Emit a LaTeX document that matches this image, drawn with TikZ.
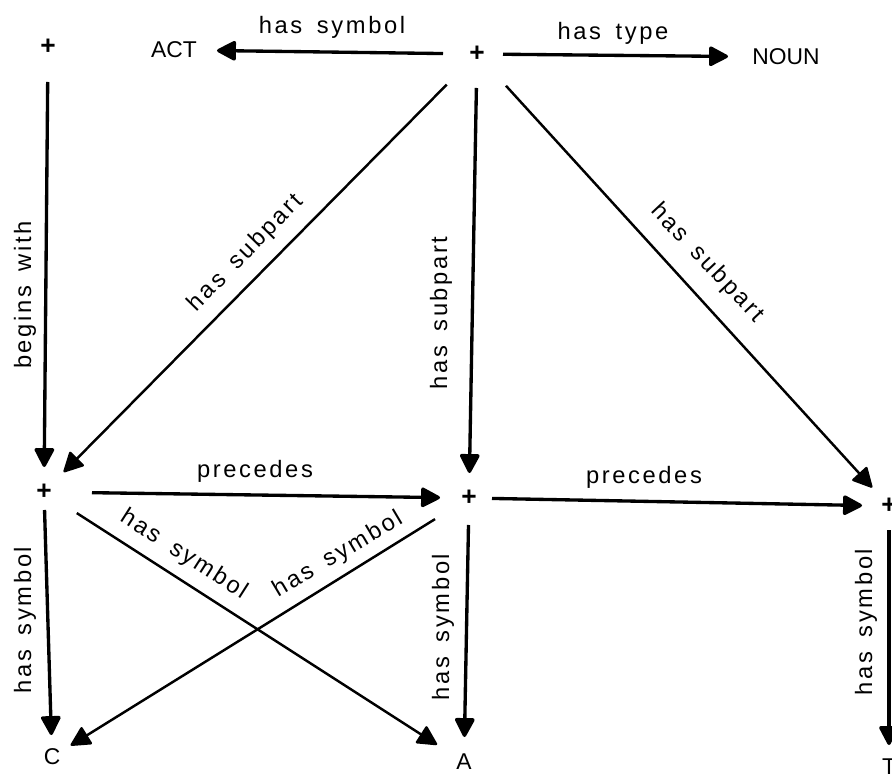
\documentclass[tikz,border=0pt]{standalone}
\usepackage{fontspec}
\setmainfont{Liberation Sans}
\newfontfamily\lblfont[LetterSpace=11,WordSpace=1.6]{Liberation Sans}
\usetikzlibrary{arrows.meta}
\begin{document}
\begin{tikzpicture}[x=0.02cm,y=-0.02cm,
  plus/.style={inner sep=0pt, font=\fontsize{15}{15}\selectfont\bfseries},
  term/.style={inner sep=0pt, font=\fontsize{13}{13}\selectfont},
  lbl/.style={inner sep=0pt, font=\fontsize{13.5}{14}\lblfont},
  arr/.style={line width=1.9pt, -{Triangle[round,length=0.42cm,width=0.42cm]}},
  diag/.style={line width=1.4pt},
  sa/.style={shorten <=#1*0.02cm},
  sb/.style={shorten >=#1*0.02cm}]
\useasboundingbox (0,0) rectangle (892,780);
\clip (0,0) rectangle (892,780);
\fill[white] (0,0) rectangle (892,780);
% nodes
\node[plus] (p1) at (48,47) {+};
\node[term] (act) at (174,50) {ACT};
\node[plus] (p2) at (477,54) {+};
\node[term] (noun) at (786,57) {NOUN};
\node[plus] (p3) at (44,492) {+};
\node[plus] (p4) at (469,498) {+};
\node[plus] (p5) at (889,506) {+};
\node[term] (c) at (52,757) {C};
\node[term] (a) at (464,762) {A};
\node[term] (t) at (889,767) {T};
% connectors
\draw[arr, sa=34, sb=43] (p2.center) -- (act.center);
\draw[arr, sa=26, sb=58] (p2.center) -- (noun.center);
\draw[arr, sa=35, sb=25] (p1.center) -- (p3.center);
\draw[arr, diag, sa=43, sb=28] (p2.center) -- (p3.center);
\draw[arr, sa=34, sb=25] (p2.center) -- (p4.center);
\draw[arr, diag, sa=43, sb=25] (p2.center) -- (p5.center);
\draw[arr, sa=48, sb=29] (p3.center) -- (p4.center);
\draw[arr, sa=23, sb=27] (p4.center) -- (p5.center);
\draw[arr, sa=18, sb=22] (p3.center) -- (c.center);
\draw[arr, diag, sa=39, sb=32] (p3.center) -- (a.center);
\draw[arr, diag, sa=40, sb=22] (p4.center) -- (c.center);
\draw[arr, sa=27, sb=25] (p4.center) -- (a.center);
\draw[arr, sa=24, sb=22] (p5.center) -- (t.center);
% labels
\node[lbl] (l1) at (332,27) {has symbol};
\node[lbl] (l2) at (613,33) {has type};
\node[lbl, rotate=90] (l3) at (25,295) {begins with};
\node[lbl, rotate=45.7] (l4) at (246,253) {has subpart};
\node[lbl, rotate=90] (l5) at (441,313) {has subpart};
\node[lbl, rotate=-46.7] (l6) at (707,263) {has subpart};
\node[lbl] (l7) at (255,471) {precedes};
\node[lbl] (l8) at (644,477) {precedes};
\node[lbl, rotate=90] (l9) at (25,620) {has symbol};
\node[lbl, rotate=-32.6] (l10) at (184,555) {has symbol};
\node[lbl, rotate=30.7] (l11) at (338,555) {has symbol};
\node[lbl, rotate=90] (l12) at (443,627) {has symbol};
\node[lbl, rotate=90] (l13) at (866,622) {has symbol};
\end{tikzpicture}
\end{document}
